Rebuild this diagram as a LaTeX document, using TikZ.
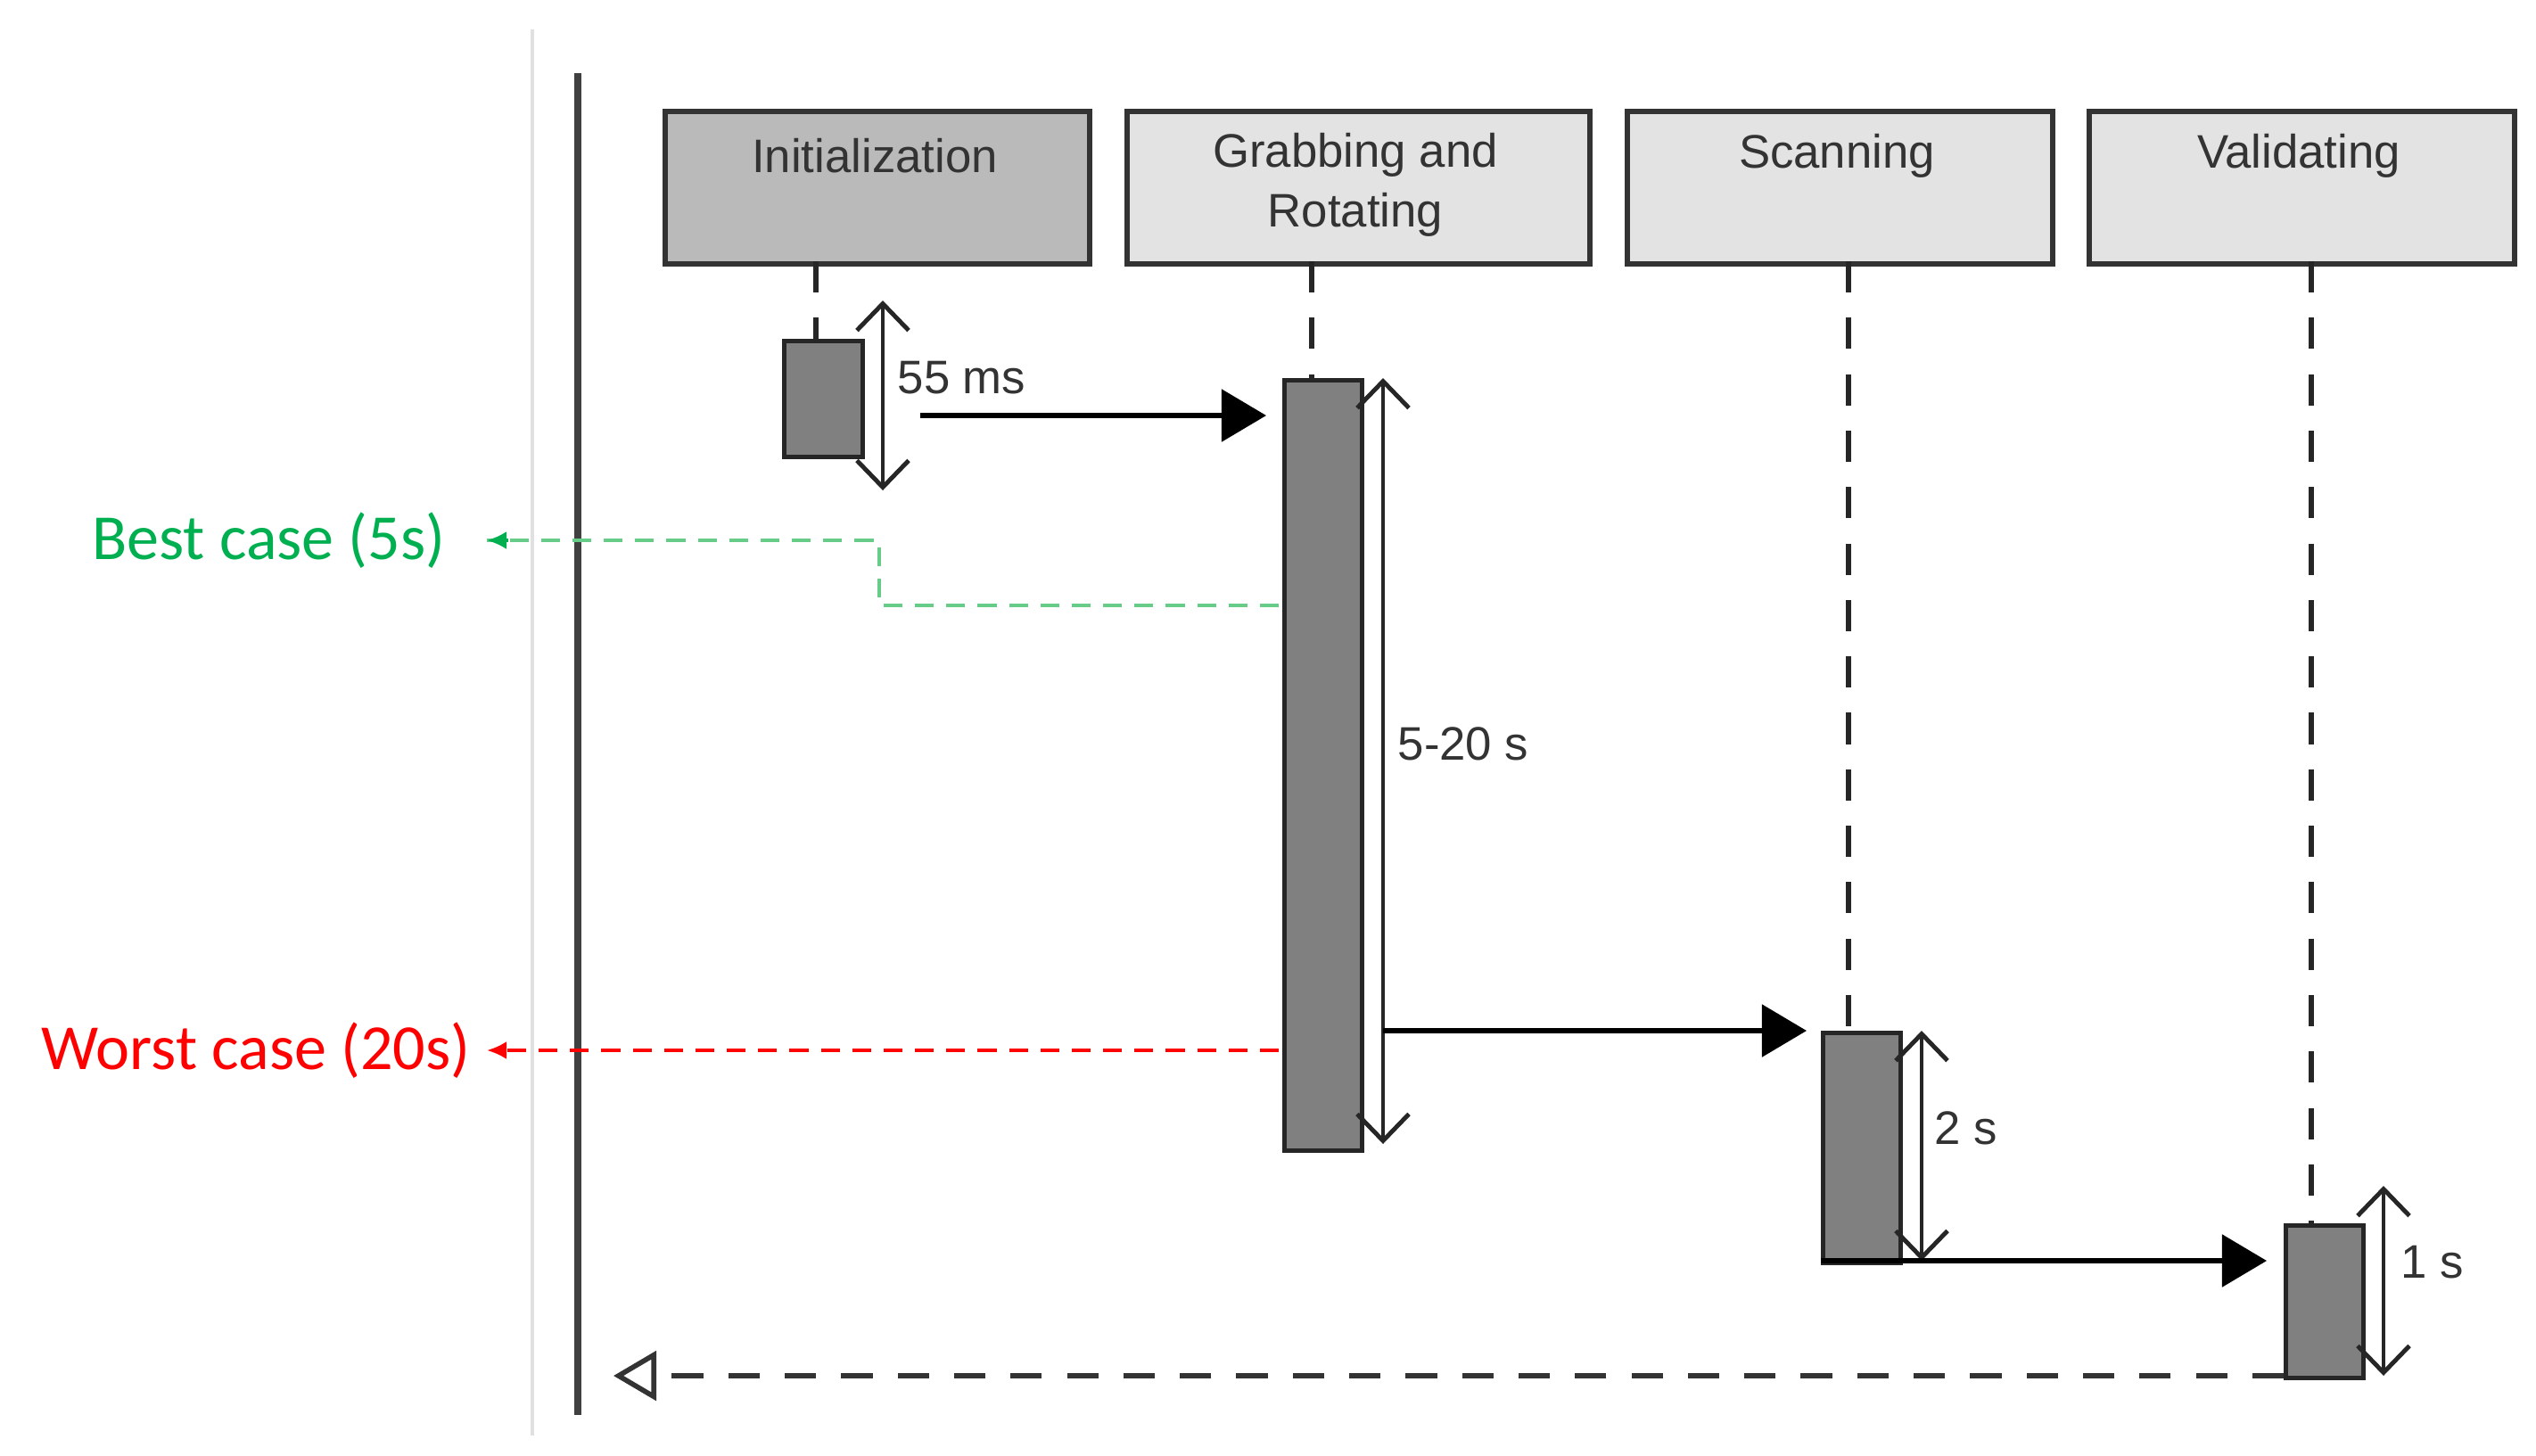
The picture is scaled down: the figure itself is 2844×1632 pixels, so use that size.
\documentclass[tikz,border=0pt]{standalone}
\usepackage{fontspec}
\setmainfont{Liberation Sans}
\newfontfamily\carlitofont{Carlito}
\usetikzlibrary{arrows.meta}
\definecolor{tx}{HTML}{333333}
\definecolor{gbest}{HTML}{00B050}
\definecolor{gline}{HTML}{66CC88}
\begin{document}
\begin{tikzpicture}[x=0.01cm,y=-0.01cm,
 hdr/.style={draw=black!80,line width=1.6pt,minimum width=#1,minimum height=1.71cm,anchor=north west,inner sep=0pt},
 htxt/.style={text=tx,font=\fontsize{15}{19}\selectfont,align=center},
 act/.style={draw=black!85,fill=black!50,line width=1.5pt},
 life/.style={draw=black!85,line width=1.6pt,dash pattern=on 10pt off 8pt},
 msg/.style={draw=black,line width=1.5pt,-{Triangle[length=0.5cm,width=0.58cm]}},
 dur/.style={draw=black!85,line width=1.4pt,{Straight Barb[length=0.3cm,width=0.58cm]}-{Straight Barb[length=0.3cm,width=0.58cm]}},
 lbl/.style={text=tx,font=\fontsize{15}{19}\selectfont,anchor=west,inner sep=0pt}]
\useasboundingbox (0,0) rectangle (2844,1632);
\draw[black!12,line width=1pt] (597,33) -- (597,1610);
\draw[black!75,line width=2pt] (648,82) -- (648,1587);
% headers
\node[hdr=4.76cm,fill=black!27] (hI) at (743,122) {};
\node[hdr=5.19cm,fill=black!11] (hG) at (1261,122) {};
\node[hdr=4.77cm,fill=black!11] (hS) at (1822,122) {};
\node[hdr=4.77cm,fill=black!11] (hV) at (2340,122) {};
\node[htxt] (tI) at (981,175) {Initialization};
\node[htxt] (tG) at (1520,207) {Grabbing and\\Rotating};
\node[htxt] (tS) at (2060,175) {Scanning};
\node[htxt] (tV) at (2578,175) {Validating};
% activations
\node[act,minimum width=0.88cm,minimum height=1.30cm,anchor=north west,inner sep=0pt] (aI) at (877,380) {};
\node[act,minimum width=0.87cm,minimum height=8.63cm,anchor=north west,inner sep=0pt] (aG) at (1438,424) {};
\node[act,minimum width=0.87cm,minimum height=2.58cm,anchor=north west,inner sep=0pt] (aS) at (2042,1156) {};
\node[act,minimum width=0.87cm,minimum height=1.71cm,anchor=north west,inner sep=0pt] (aV) at (2561,1372) {};
% lifelines
\draw[life] (915,293) -- (915,380);
\draw[life] (1471,293) -- (1471,424);
\draw[life] (2073,293) -- (2073,1156);
\draw[life] (2592,293) -- (2592,1372);
% durations
\coordinate (d1a) at (990,337); \coordinate (d1b) at (990,550);
\draw[dur] (d1a) -- (d1b);
\node[lbl] (l1) at (1006,424) {55 ms};
\coordinate (d2a) at (1551,424); \coordinate (d2b) at (1551,1283);
\draw[dur] (d2a) -- (d2b);
\node[lbl] (l2) at (1567,834) {5-20 s};
\coordinate (d3a) at (2155,1156); \coordinate (d3b) at (2155,1414);
\draw[dur] (d3a) -- (d3b);
\node[lbl] (l3) at (2169,1265) {2 s};
\coordinate (d4a) at (2673,1330); \coordinate (d4b) at (2673,1543);
\draw[dur] (d4a) -- (d4b);
\node[lbl] (l4) at (2692,1416) {1 s};
% messages
\coordinate (m1a) at (1032,466); \coordinate (m1b) at (1420,466);
\draw[msg] (m1a) -- (m1b);
\coordinate (m2a) at (1551,1156); \coordinate (m2b) at (2026,1156);
\draw[msg] (m2a) -- (m2b);
\coordinate (m3a) at (2042,1414); \coordinate (m3b) at (2542,1414);
\draw[msg] (m3a) -- (m3b);
\coordinate (rets) at (2561,1543);
\coordinate (ret) at (688,1543);
\draw[black!80,line width=1.6pt,dash pattern=on 10pt off 8pt,-{Triangle[open,length=0.48cm,width=0.55cm]}] (rets) -- (ret);
% best/worst
\node[text=gbest,font=\carlitofont\fontsize{20.5}{24}\selectfont,anchor=east,inner sep=0pt] (best) at (500,606) {Best case (5s)};
\node[text=red,font=\carlitofont\fontsize{20.5}{24}\selectfont,anchor=east,inner sep=0pt] (worst) at (528,1178) {Worst case (20s)};
\coordinate (bs) at (1434,679);
\coordinate (bt) at (546,606);
\draw[gline,line width=1.1pt,dash pattern=on 6pt off 4pt] (bs) -- (986,679) -- (986,606) -- (bt);
\draw[gbest,line width=1pt,-{Latex[length=0.22cm,width=0.2cm]}] (570,606) -- (bt);
\coordinate (ws) at (1434,1178);
\coordinate (wt) at (546,1178);
\draw[red,line width=1.1pt,dash pattern=on 6pt off 4pt,-{Latex[length=0.22cm,width=0.2cm]}] (ws) -- (wt);
\end{tikzpicture}
\end{document}
